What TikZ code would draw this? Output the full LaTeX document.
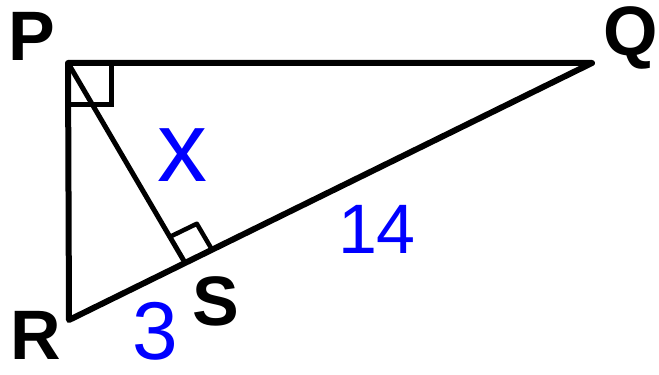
\documentclass[tikz,border=0pt]{standalone}
\usepackage{fontspec}
\setmainfont{Liberation Sans}
\usetikzlibrary{calc}
\begin{document}
\begin{tikzpicture}[x=1pt,y=1pt,
  side/.style={line width=6pt,line cap=round,line join=round},
  vlabel/.style={inner sep=0pt,font=\fontsize{70}{70}\selectfont\bfseries},
  hand/.style={inner sep=0pt,text=blue}]
\useasboundingbox (0,0) rectangle (659,375);
\coordinate (P) at (68,312);
\coordinate (Q) at (592,312);
\coordinate (R) at (69,55);
\coordinate (S) at (184,114);
% triangle
\draw[side] (P) -- (Q) -- (R) -- cycle;
% altitude
\draw[line width=5pt] (P) -- (S);
% right angle at P
\draw[line width=5pt] ($(P)+(43,0)$) -- ($(P)+(43,-42)$) -- ($(P)+(0,-42)$);
% right angle at S
\coordinate (Su) at ($(S)!28pt!(P)$);
\coordinate (Sr) at ($(S)!30pt!(Q)$);
\draw[line width=4.5pt,line join=round] (Su) -- ($(Su)+(Sr)-(S)$) -- (Sr);
% labels
\node[vlabel] (lP) at (32,339) {P};
\node[vlabel] (lQ) at (631,337) {Q};
\node[vlabel] (lR) at (36,40) {R};
\node[vlabel] (lS) at (216,74) {S};
\node[hand,font=\fontsize{100}{100}\selectfont] (lx) at (182,220) {x};
\node[hand,font=\fontsize{70}{70}\selectfont] (l14) at (377,146) {14};
\node[hand,font=\fontsize{82}{82}\selectfont] (l3) at (155,44) {3};
\end{tikzpicture}
\end{document}
